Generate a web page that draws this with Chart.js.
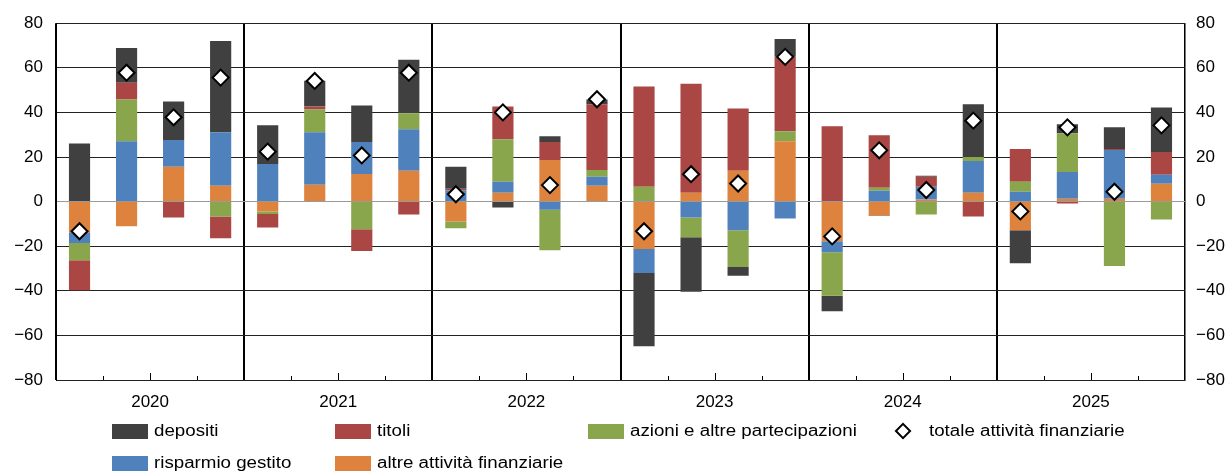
<!DOCTYPE html>
<html>
<head>
<meta charset="utf-8">
<script src="https://cdn.jsdelivr.net/npm/chart.js@4"></script>
<style>
  body { margin: 0; background: #fff; }
  #wrap { position: relative; width: 1229px; height: 471px; font-family: 'Liberation Sans', Arial, sans-serif; }
  #chart { position: absolute; left: 0; top: 0; }
  .leg { position: absolute; height: 20px; line-height: 20px; font-size: 16px; color: #000; display: flex; align-items: center; white-space: nowrap; }
  .leg .tx { display: inline-block; transform: scaleX(1.17); transform-origin: left center; }
  .sw { width: 36px; height: 15px; margin-right: 6px; }
  .dia { width: 8px; height: 8px; border: 2px solid #000; background: #fff; transform: rotate(45deg); margin: 0 20px 0 4px; }
</style>
</head>
<body>
<div id="wrap">
  <canvas id="chart" width="1229" height="471"></canvas>
  <div class="leg" style="left:112px; top:421px;"><span class="sw" style="background:#404040"></span><span class="tx">depositi</span></div>
  <div class="leg" style="left:335px; top:421px;"><span class="sw" style="background:#AA4644"></span><span class="tx">titoli</span></div>
  <div class="leg" style="left:588px; top:421px;"><span class="sw" style="background:#8AA64C"></span><span class="tx">azioni e altre partecipazioni</span></div>
  <div class="leg" style="left:893px; top:421px;"><span class="dia"></span><span class="tx">totale attività finanziarie</span></div>
  <div class="leg" style="left:112px; top:453px;"><span class="sw" style="background:#4F81BD"></span><span class="tx">risparmio gestito</span></div>
  <div class="leg" style="left:335px; top:453px;"><span class="sw" style="background:#DE833E"></span><span class="tx">altre attività finanziarie</span></div>
</div>
<script>
// categories
const years = ['2020', '2021', '2022', '2023', '2024', '2025'];
const quarters = [
  '2020 T1', '2020 T2', '2020 T3', '2020 T4',
  '2021 T1', '2021 T2', '2021 T3', '2021 T4',
  '2022 T1', '2022 T2', '2022 T3', '2022 T4',
  '2023 T1', '2023 T2', '2023 T3', '2023 T4',
  '2024 T1', '2024 T2', '2024 T3', '2024 T4',
  '2025 T1', '2025 T2', '2025 T3', '2025 T4'
];

// series (miliardi di euro)
const depositi = [26, 15.6, 17.3, 40.9, 17.3, 11.5, 16.4, 24, 9.8, -2.7, 2.6, 2.2, -32.9, -24.4, -4, 8, -7, -0.3, 0.5, 23.6, -14.7, 4, 9.7, 20];
const titoli = [-13.5, 7.5, -7.1, -9.7, -6, 1.4, -9.8, -5.8, 0.8, 14.7, 8, 29.4, 44.9, 48.9, 28, 33.3, 33.8, 23.6, 4.4, -6.7, 14.7, -0.9, 0.5, 10.2];
const azioni = [-7.7, 18.7, 0, -6.7, -1.2, 10.2, -12.4, 7.2, -3, 19.1, -18.2, 3.1, 6.7, -8.9, -16.4, 4.5, -19.5, 1.3, -5.8, 1.8, 4.5, 17.4, -28.9, -8];
const risparmio = [-4.5, 27.1, 12, 24, 16.9, 23.5, 14.3, 18.6, 5, 4.9, -3.6, 4, -10.7, -7.1, -12.9, -7.6, -4.9, 4.9, 5.8, 14.2, 4.4, 12, 21.8, 4];
const altre = [-14.1, -11.1, 15.6, 7.1, -4.4, 7.6, 12.4, 13.8, -8.9, 4, 18.7, 7.1, -21.3, 4, 13.8, 27.1, -17.8, -6.2, 0.9, 4, -12.9, 1.3, 1.3, 8];
const totale = [-13.3, 57.8, 37.8, 55.6, 22.4, 54.1, 20.7, 57.8, 3.3, 40, 7.4, 45.9, -13.3, 12.3, 8.1, 64.9, -15.6, 23, 5.2, 36.3, -4.4, 33.3, 4.4, 34.2];

const yTicks = [-80, -60, -40, -20, 0, 20, 40, 60, 80];

const fontSpec = { family: "'Liberation Sans', Arial, sans-serif", size: 17 };
const fmt = v => (v < 0 ? '\u2212' + Math.abs(v) : '' + v);

// small ticks on the bottom axis at quarter boundaries
const quarterTicks = {
  id: 'quarterTicks',
  afterDraw(chart) {
    const xs = chart.scales.x, ys = chart.scales.y;
    const ctx = chart.ctx;
    const step = (xs.right - xs.left) / quarters.length;
    ctx.save();
    ctx.strokeStyle = '#000';
    ctx.lineWidth = 1;
    for (let k = 1; k < quarters.length; k++) {
      if (k % 4 === 0) continue;
      const px = Math.round(xs.left + k * step) + 0.5;
      const len = k % 4 === 2 ? 7 : 4;
      ctx.beginPath();
      ctx.moveTo(px, ys.bottom);
      ctx.lineTo(px, ys.bottom - len);
      ctx.stroke();
    }
    ctx.restore();
  }
};

function barSet(label, data, color) {
  return {
    type: 'bar',
    label: label,
    data: data,
    backgroundColor: color,
    borderWidth: 0,
    stack: 'att',
    barPercentage: 0.45,
    categoryPercentage: 1
  };
}

new Chart(document.getElementById('chart').getContext('2d'), {
  type: 'bar',
  data: {
    labels: quarters,
    datasets: [
      // stacking order from zero outward
      barSet('altre attività finanziarie', altre, '#DE833E'),
      barSet('risparmio gestito', risparmio, '#4F81BD'),
      barSet('azioni e altre partecipazioni', azioni, '#8AA64C'),
      barSet('titoli', titoli, '#AA4644'),
      barSet('depositi', depositi, '#404040'),
      {
        type: 'line',
        label: 'totale attività finanziarie',
        data: totale,
        stack: 'tot',
        order: -1,
        showLine: false,
        pointStyle: 'rectRot',
        pointRadius: 8,
        pointBorderWidth: 2,
        pointBackgroundColor: '#fff',
        pointBorderColor: '#000'
      }
    ]
  },
  options: {
    responsive: false,
    animation: false,
    layout: { padding: { top: 20, left: 0, right: 0, bottom: 0 } },
    plugins: { legend: { display: false }, tooltip: { enabled: false } },
    scales: {
      x: { type: 'category', display: false, stacked: true, offset: true },
      x2: {
        type: 'category',
        labels: years,
        position: 'bottom',
        offset: true,
        grid: {
          offset: true,
          drawTicks: false,
          color: '#000',
          lineWidth: c => (c.index === 0 || c.index === years.length ? 1 : 2)
        },
        border: { display: false },
        ticks: { color: '#000', font: fontSpec, padding: 12, maxRotation: 0 },
        afterFit: s => { s.height = 91; }
      },
      y: {
        position: 'left',
        stacked: true,
        min: -80, max: 80,
        afterBuildTicks: s => { s.ticks = yTicks.map(v => ({ value: v })); },
        grid: { color: c => (c.tick && c.tick.value === 0 ? '#9a9a9a' : '#222'), lineWidth: 1, drawTicks: false },
        border: { display: true, color: '#000', width: 1 },
        ticks: { color: '#000', font: fontSpec, padding: 13, callback: fmt },
        afterFit: s => { s.width = 56; }
      },
      y2: {
        position: 'right',
        min: -80, max: 80,
        afterBuildTicks: s => { s.ticks = yTicks.map(v => ({ value: v })); },
        grid: { display: false, drawTicks: false },
        border: { display: true, color: '#777', width: 1 },
        ticks: { color: '#000', font: fontSpec, padding: 11, callback: fmt },
        afterFit: s => { s.width = 44; }
      }
    }
  },
  plugins: [quarterTicks]
});
</script>
</body>
</html>
